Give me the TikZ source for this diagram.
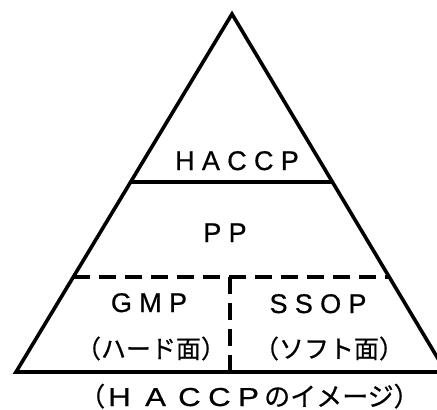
\documentclass[tikz,border=0pt]{standalone}
\usepackage{fontspec}
\usetikzlibrary{calc}
\newfontfamily\latin{Liberation Sans}[LetterSpace=27,FakeBold=0.6]
\newfontfamily\latinwide{Liberation Sans}[FakeStretch=1.2,FakeBold=0.6]
\newfontfamily\jp{Noto Sans CJK JP}[FakeBold=0.6]
% one glyph in a box of fixed advance
\newcommand\cell[2]{\makebox[#1][l]{#2}}
\begin{document}
\begin{tikzpicture}[x=1pt,y=-1pt,
    edge/.style={line width=3.6pt,line join=miter},
    dashedge/.style={line width=3.4pt,dash pattern=on 17pt off 9pt},
    label/.style={inner sep=0pt,anchor=base,font=\fontsize{27}{30}\selectfont\latin},
    sublabel/.style={inner sep=0pt,anchor=base,font=\fontsize{25}{30}\selectfont\jp}]
  \clip (0,0) rectangle (437,410);
  \fill[white] (0,0) rectangle (437,410);
  % pyramid outline
  \coordinate (apex) at (232,14);
  \coordinate (bl) at (16,372);
  \coordinate (br) at (446,372);
  \draw[edge] (bl) -- (apex) -- (br) -- cycle;
  % solid divider under the top tier
  \coordinate (hl) at ($(apex)!0.469!(bl)$);
  \coordinate (hr) at ($(apex)!0.469!(br)$);
  \draw[edge] (hl) -- (hr);
  % dashed dividers of the bottom tier
  \coordinate (dl) at ($(apex)!0.735!(bl)$);
  \coordinate (dr) at ($(apex)!0.735!(br)$);
  \coordinate (vt) at (230,277);
  \coordinate (vb) at (230,372);
  \draw[dashedge] (dl) -- (dr);
  \draw[dashedge] (vt) -- (vb);
  % labels
  \node[label] (haccp) at (237,170) {HACCP};
  \node[label] (pp) at (225,242) {PP};
  \node[label] (gmp) at (149,312) {GMP};
  \node[label] (ssop) at (318,313) {SSOP};
  \node[sublabel] (hard) at (151,358) {（ハード面）};
  \node[sublabel] (soft) at (329,358) {（ソフト面）};
  \node[inner sep=0pt,anchor=base west] (caption) at (79,406)
    {\fontsize{26}{30}\selectfont\jp\cell{29pt}{（}%
     \latinwide\cell{37pt}{H}\cell{33pt}{A}\cell{30pt}{C}\cell{30pt}{C}\cell{26pt}{P}%
     \jp のイメージ）};
\end{tikzpicture}
\end{document}
